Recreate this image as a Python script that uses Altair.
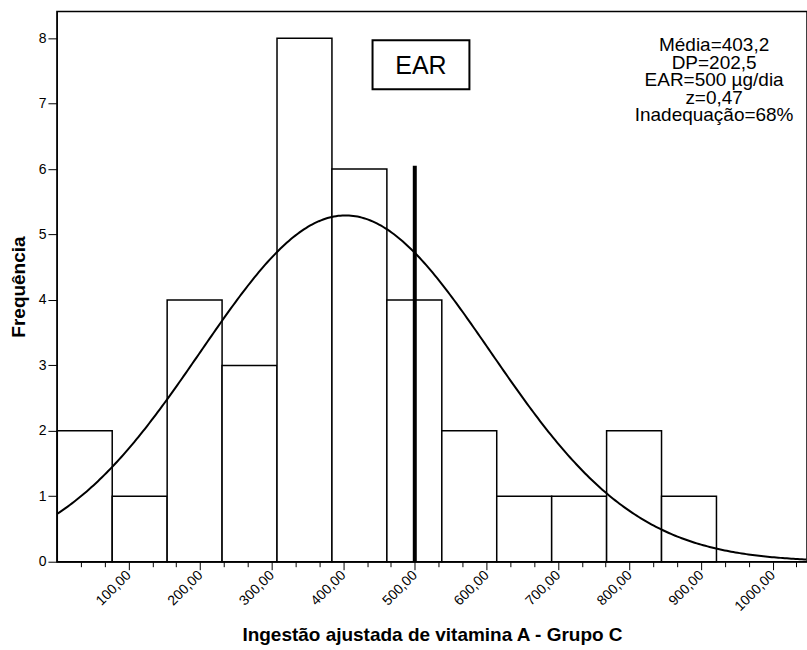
import altair as alt
import numpy as np
import pandas as pd

# Histogram bins (vitamin A intake, µg/day) and their frequencies
bin_start = [0.5, 77.25, 154.0, 230.75, 307.5, 384.25, 461.0, 537.75, 614.5, 691.25, 768.0, 844.75]
bin_width = 76.75
counts = [2, 1, 4, 3, 8, 6, 4, 2, 1, 1, 2, 1]

# Summary statistics shown in the annotation
MEAN = 403.2
SD = 202.5
EAR = 500
EAR_LINE_TOP = 6.05
stats_lines = ["Média=403,2", "DP=202,5", "EAR=500 µg/dia", "z=0,47", "Inadequação=68%"]

X_MAX = 1048
Y_MAX = 8.41

bars = pd.DataFrame({
    "start": bin_start,
    "end": [s + bin_width for s in bin_start],
    "count": counts,
})

# Fitted normal curve scaled to the histogram (n * bin width * density)
n_obs = sum(counts)
xs = np.arange(0, X_MAX + 1, 3.0)
curve = pd.DataFrame({
    "x": xs,
    "y": n_obs * bin_width * np.exp(-0.5 * ((xs - MEAN) / SD) ** 2) / (SD * np.sqrt(2 * np.pi)),
})

x_scale = alt.Scale(domain=[0, X_MAX], nice=False, zero=False)
y_scale = alt.Scale(domain=[0, Y_MAX], nice=False)

major = "abs(datum.value - round(datum.value / 100) * 100) < 0.01"
x_axis = alt.Axis(
    title="Ingestão ajustada de vitamina A - Grupo C",
    values=[i * 100 / 3 for i in range(1, 32)],
    labelExpr=f"{major} ? replace(format(datum.value, '.2f'), '.', ',') : ''",
    labelAngle=-45, labelAlign="right", labelBaseline="middle",
    labelFontSize=14, labelPadding=3,
    tickSize={"condition": {"test": major, "value": 8}, "value": 5},
    titleFontSize=19, titlePadding=12,
    labelOverlap=False, labelBound=False, labelFlush=False,
)
y_axis = alt.Axis(
    title="Frequência", values=list(range(0, 9)), format="d",
    labelFontSize=14, tickSize=9, labelPadding=2,
    titleFontSize=19, titlePadding=10,
    labelOverlap=False,
)

hist = alt.Chart(bars).mark_rect(fill="white", stroke="black", strokeWidth=1.5).encode(
    x=alt.X("start:Q", scale=x_scale, axis=x_axis),
    x2="end:Q",
    y=alt.Y("count:Q", scale=y_scale, axis=y_axis),
    y2=alt.datum(0),
)

line = alt.Chart(curve).mark_line(color="black", strokeWidth=2, clip=True).encode(
    x=alt.X("x:Q", scale=x_scale, axis=x_axis),
    y=alt.Y("y:Q", scale=y_scale, axis=y_axis),
)

ear_rule = alt.Chart(pd.DataFrame({"x": [EAR], "top": [EAR_LINE_TOP]})).mark_rule(
    color="black", strokeWidth=4
).encode(
    x=alt.X("x:Q", scale=x_scale, axis=x_axis),
    y=alt.Y("top:Q", scale=y_scale, axis=y_axis),
    y2=alt.datum(0),
)

ear_box = alt.Chart(pd.DataFrame({"a": [0]})).mark_rect(
    fill="white", stroke="black", strokeWidth=2
).encode(
    x=alt.value(316), x2=alt.value(413), y=alt.value(29), y2=alt.value(78),
)
ear_label = alt.Chart(pd.DataFrame({"t": ["EAR"]})).mark_text(
    fontSize=25, color="black", align="center", baseline="middle"
).encode(x=alt.value(364.5), y=alt.value(55), text="t:N")

stats = alt.Chart(pd.DataFrame({"t": [stats_lines]})).mark_text(
    fontSize=19, lineHeight=17.5, color="black", align="center", baseline="top"
).encode(x=alt.value(658), y=alt.value(25), text="t")

chart = alt.layer(hist, line, ear_rule, ear_box, ear_label, stats).properties(
    width=751, height=551,
    autosize=alt.AutoSizeParams(type="none"),
    padding={"left": 57, "top": 11, "right": 0, "bottom": 88},
).configure(
    font="Liberation Sans",
    background="white",
).configure_axis(
    grid=False, labelOverlap=False,
    tickColor="black", domainColor="black", labelColor="black", titleColor="black",
    titleFontWeight="bold", labelFontSize=14, titleFontSize=19,
).configure_axisX(
    labelFontSize=14,
).configure_axisY(
    labelFontSize=14,
).configure_view(stroke="black", strokeWidth=1.5)

chart.save("out.html", embed_options={"renderer": "svg", "actions": False})
